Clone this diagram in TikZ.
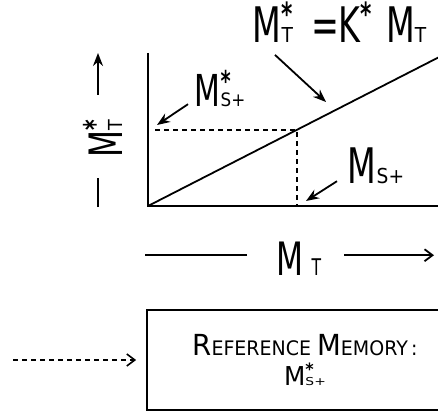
\documentclass[tikz,border=0pt]{standalone}
\usepackage{graphicx}
\usepackage{fontspec}
\setmainfont{DejaVu Sans}[FakeStretch=0.68]
\newfontfamily\boxfont{DejaVu Sans}[FakeStretch=0.95]
\usetikzlibrary{arrows.meta}

\newcommand{\lowsub}[1]{\scalebox{0.56}[0.42]{#1}}
\newcommand{\supsub}[2]{\makebox[0pt][l]{\raisebox{0.36em}{\scalebox{0.65}{\bfseries #1}}}\lowsub{#2}}
\newcommand{\starup}{\raisebox{0.36em}{\scalebox{0.65}{\bfseries *}}}

\begin{document}
\begin{tikzpicture}[x=1pt,y=-1pt,line width=1.8pt,
  lbl/.style={inner sep=0pt,font=\fontsize{49}{49}\selectfont},
  dotline/.style={dash pattern=on 5pt off 4pt,line width=1.6pt},
  ptr/.style={-{Stealth[length=13pt,width=10pt]}},
  barb/.style={-{Straight Barb[length=8pt,width=12pt]}}]
\useasboundingbox (0,0) rectangle (438,414);

\coordinate (O) at (148,206);
\coordinate (P) at (297,130);
\draw (148,53) -- (O) -- (438,206);
\draw (O) -- (450,51.5);
\draw[dotline,shorten <=7pt] (O |- P) -- (P) -- (O -| P);

\node[lbl,anchor=base west] (kform) at (252,43) {M\supsub{*}{T}\hspace{18pt}=K\starup\hspace{14pt}M\lowsub{T}};
\node[lbl,font=\fontsize{44}{44}\selectfont,anchor=base west] (mss) at (194,107) {M\supsub{*}{S}\lowsub{+}};
\node[lbl,anchor=base west] (ms) at (347,183) {M\lowsub{S+}};

\coordinate (kA) at (326,102);
\coordinate (mssA) at (157,125);
\coordinate (msA) at (306,201);
\draw[ptr] ([xshift=23pt,yshift=-11pt]kform.south west) -- (kA);
\draw[ptr] ([xshift=-6pt,yshift=4pt]mss.south west) -- (mssA);
\draw[ptr] ([xshift=-10pt,yshift=3pt]ms.south west) -- (msA);

% axis names
\node[lbl,font=\fontsize{46}{46}\selectfont,rotate=90,anchor=base west] (ylab) at (122,158) {M\supsub{*}{T}};
\coordinate (ybar) at (98,207);
\draw (ybar) -- ++(0,-29);
\draw[ptr] ([yshift=112pt]ybar) -- ++(0,-42);
\node[lbl,font=\fontsize{46}{46}\selectfont,anchor=base west] (xlab) at (276,275) {M\,\scalebox{0.5}{T}};
\draw ([xshift=-29pt,yshift=3pt]xlab.west) -- ++(-102,0);
\draw[barb] ([xshift=22pt,yshift=3pt]xlab.east) -- ++(90,0);

\node[draw,minimum width=316pt,minimum height=100pt,align=center,inner sep=0pt,font=\boxfont] (refmem) at (305,360)
  {{\fontsize{29}{29}\selectfont R}{\fontsize{20}{20}\selectfont EFERENCE}\hspace{6pt}{\fontsize{29}{29}\selectfont M}{\fontsize{20}{20}\selectfont EMORY\,:}\\[6pt]
   {\fontsize{26}{26}\selectfont M\supsub{*}{S}\lowsub{+}}};
\coordinate (src) at (13,360);
\draw[dotline,barb] (src) -- ([xshift=-10pt]refmem.west);
\end{tikzpicture}
\end{document}
